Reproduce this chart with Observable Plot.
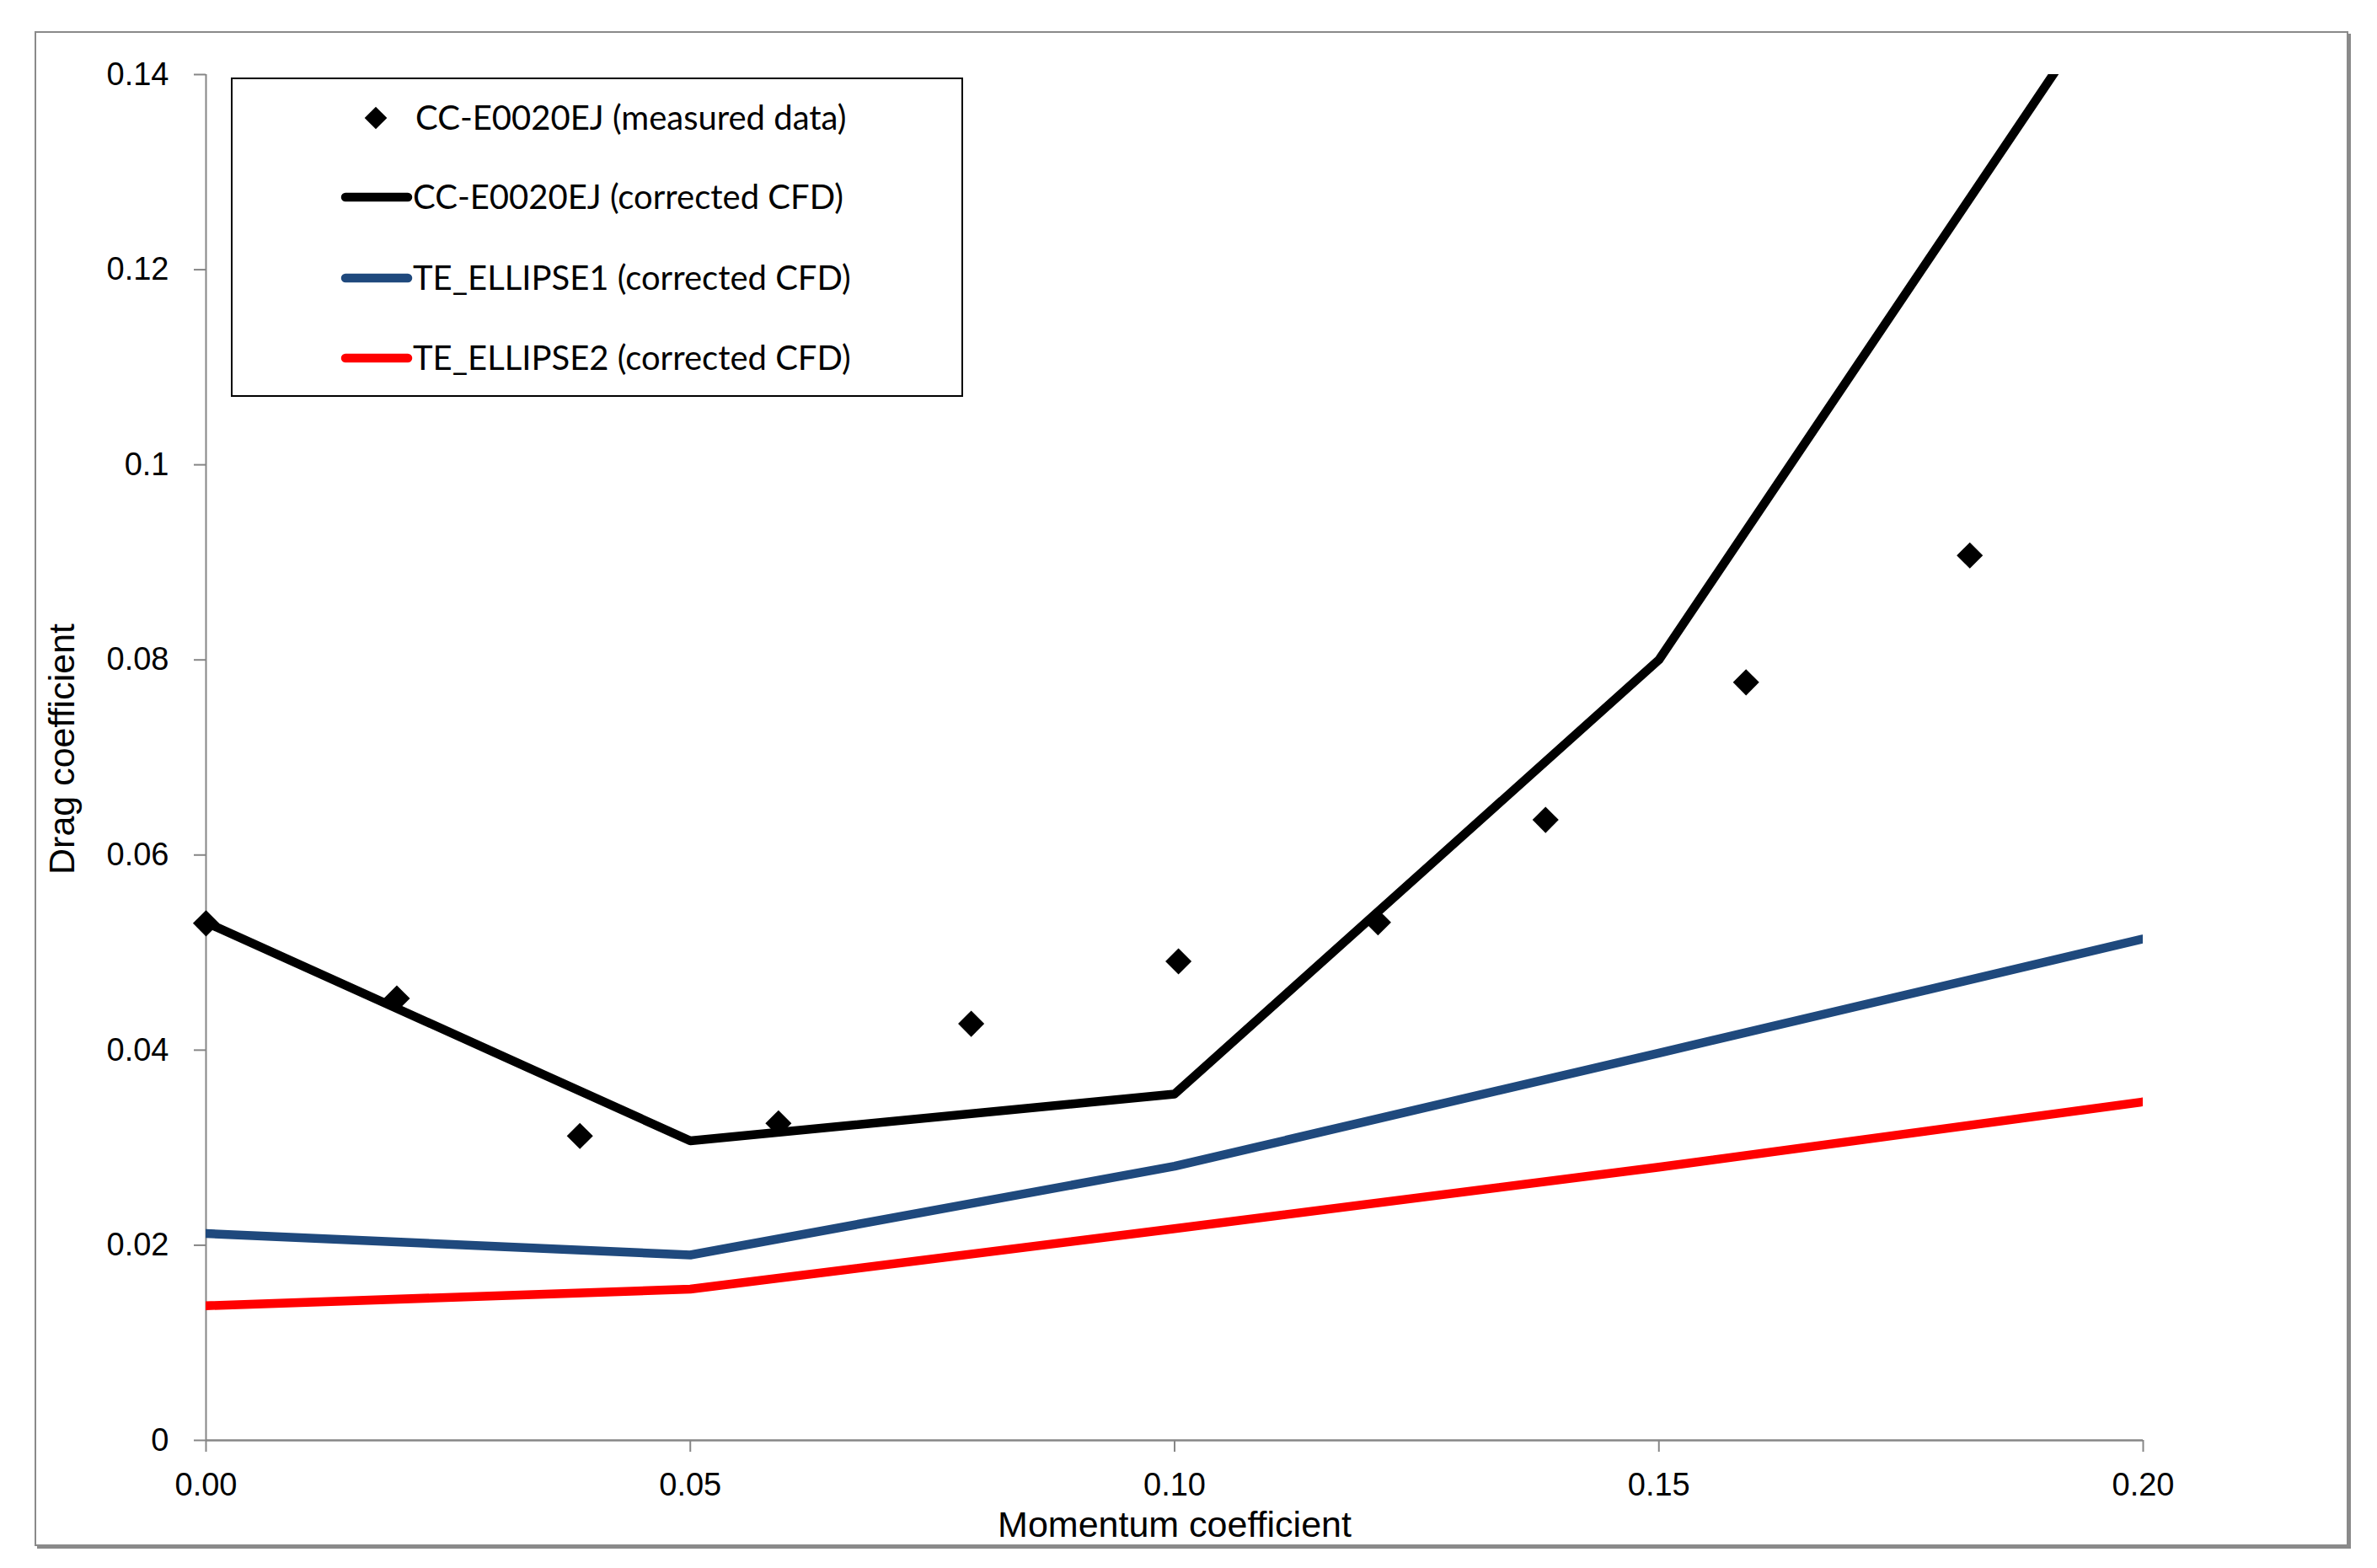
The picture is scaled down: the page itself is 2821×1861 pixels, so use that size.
<!DOCTYPE html>
<html>
<head>
<meta charset="utf-8">
<script src="https://cdn.jsdelivr.net/npm/d3@7"></script>
<script src="https://cdn.jsdelivr.net/npm/@observablehq/plot@0.6"></script>
<style>
html, body { margin: 0; padding: 0; background: #ffffff; }
#wrap { position: relative; width: 2821px; height: 1861px; overflow: hidden; background: #ffffff; }
#frame { position: absolute; left: 41px; top: 37px; width: 2742px; height: 1794px;
  border: 2px solid #8a8a8a; box-shadow: 3px 3px 0 #8a8a8a; }
#chart { position: absolute; left: 0; top: 0; }
#legend { position: absolute; left: 0; top: 0; pointer-events: none; }
</style>
</head>
<body>
<div id="wrap">
  <div id="frame"></div>
  <div id="chart"></div>
  <svg id="legend" width="2821" height="1861"></svg>
</div>
<script>
// ---- data ----
const momentum = [0, 0.05, 0.10, 0.15, 0.20];
const ccCorrected = [0.0531, 0.0307, 0.0355, 0.0800, 0.1537];
const ellipse1Corrected = [0.0212, 0.0190, 0.0281, 0.0397, 0.0514];
const ellipse2Corrected = [0.0138, 0.0155, 0.0217, 0.0280, 0.0347];

const measuredMomentum = [0, 0.0197, 0.0386, 0.0591, 0.0790, 0.1004, 0.1210, 0.1383, 0.1590, 0.1821];
const measuredDrag = [0.0530, 0.0453, 0.0312, 0.0325, 0.0427, 0.0491, 0.0531, 0.0636, 0.0777, 0.0907];

const seriesNames = [
  "CC-E0020EJ (measured data)",
  "CC-E0020EJ (corrected CFD)",
  "TE_ELLIPSE1 (corrected CFD)",
  "TE_ELLIPSE2 (corrected CFD)"
];
const seriesColors = ["#000000", "#000000", "#1F497D", "#FF0000"];

const xTicks = [0, 0.05, 0.10, 0.15, 0.20];
const xTickLabels = ["0.00", "0.05", "0.10", "0.15", "0.20"];
const yTicks = [0, 0.02, 0.04, 0.06, 0.08, 0.10, 0.12, 0.14];
const yTickLabels = ["0", "0.02", "0.04", "0.06", "0.08", "0.1", "0.12", "0.14"];

const xTitle = "Momentum coefficient";
const yTitle = "Drag coefficient";

// ---- tables ----
const cfd = [];
[ccCorrected, ellipse1Corrected, ellipse2Corrected].forEach((vals, s) => {
  momentum.forEach((m, i) => cfd.push({series: seriesNames[s + 1], x: m, y: vals[i]}));
});
const measured = measuredMomentum.map((m, i) => ({x: m, y: measuredDrag[i]}));

const axisGray = "#868686";
const W = 2821, H = 1861;

const chart = Plot.plot({
  width: W,
  height: H,
  marginLeft: 244,
  marginRight: 278,
  marginTop: 88,
  marginBottom: 152,
  style: {fontFamily: "'Liberation Sans', Arial, sans-serif", fontSize: "38px", background: "transparent", color: "black"},
  x: {domain: [0, 0.2]},
  y: {domain: [0, 0.14]},
  color: {domain: seriesNames.slice(1), range: seriesColors.slice(1)},
  marks: [
    Plot.ruleX([0], {stroke: axisGray, strokeWidth: 2}),
    Plot.ruleY([0], {stroke: axisGray, strokeWidth: 2.5}),
    Plot.axisX({ticks: xTicks, tickFormat: d => xTickLabels[xTicks.indexOf(d)], tickSize: 14, tickPadding: 25,
      stroke: axisGray, strokeWidth: 2, fill: "black", label: null}),
    Plot.axisY({ticks: yTicks, tickFormat: d => yTickLabels[yTicks.indexOf(d)], tickSize: 14, tickPadding: 30,
      stroke: axisGray, strokeWidth: 2, fill: "black", label: null}),
    Plot.text([xTitle], {text: d => d, frameAnchor: "bottom", lineAnchor: "top", dy: 84, fontSize: 43, fill: "black"}),
    Plot.text([yTitle], {text: d => d, frameAnchor: "left", textAnchor: "middle", rotate: -90, lineAnchor: "top",
      dx: -187, dy: -10, fontSize: 43, fill: "black"}),
    Plot.line(cfd, {x: "x", y: "y", z: "series", stroke: "series", strokeWidth: 10.5, clip: true,
      strokeLinejoin: "round", strokeLinecap: "round"}),
    Plot.dot(measured, {x: "x", y: "y", symbol: "diamond2", r: 14, fill: "black", stroke: null})
  ]
});
document.getElementById("chart").appendChild(chart);

// ---- legend ----
const leg = d3.select("#legend");
leg.append("rect").attr("x", 275).attr("y", 93).attr("width", 867).attr("height", 377)
  .attr("fill", "white").attr("stroke", "black").attr("stroke-width", 2);
const rowY = [140, 234, 330, 425];
seriesNames.forEach((name, i) => {
  const g = leg.append("g");
  if (i === 0) {
    g.append("path").attr("transform", `translate(446,${rowY[i]})`)
      .attr("d", d3.symbol(d3.symbolDiamond2, Math.PI * 12 * 12)()).attr("fill", seriesColors[i]);
  } else {
    g.append("line").attr("x1", 410).attr("x2", 484).attr("y1", rowY[i]).attr("y2", rowY[i])
      .attr("stroke", seriesColors[i]).attr("stroke-width", 10.5).attr("stroke-linecap", "round");
  }
  g.append("text").attr("x", i === 0 ? 493 : 490).attr("y", rowY[i]).attr("dy", "0.35em")
    .attr("font-family", "Lato, 'Liberation Sans', sans-serif").attr("font-size", 40).attr("fill", "black")
    .text(name);
});
</script>
</body>
</html>
